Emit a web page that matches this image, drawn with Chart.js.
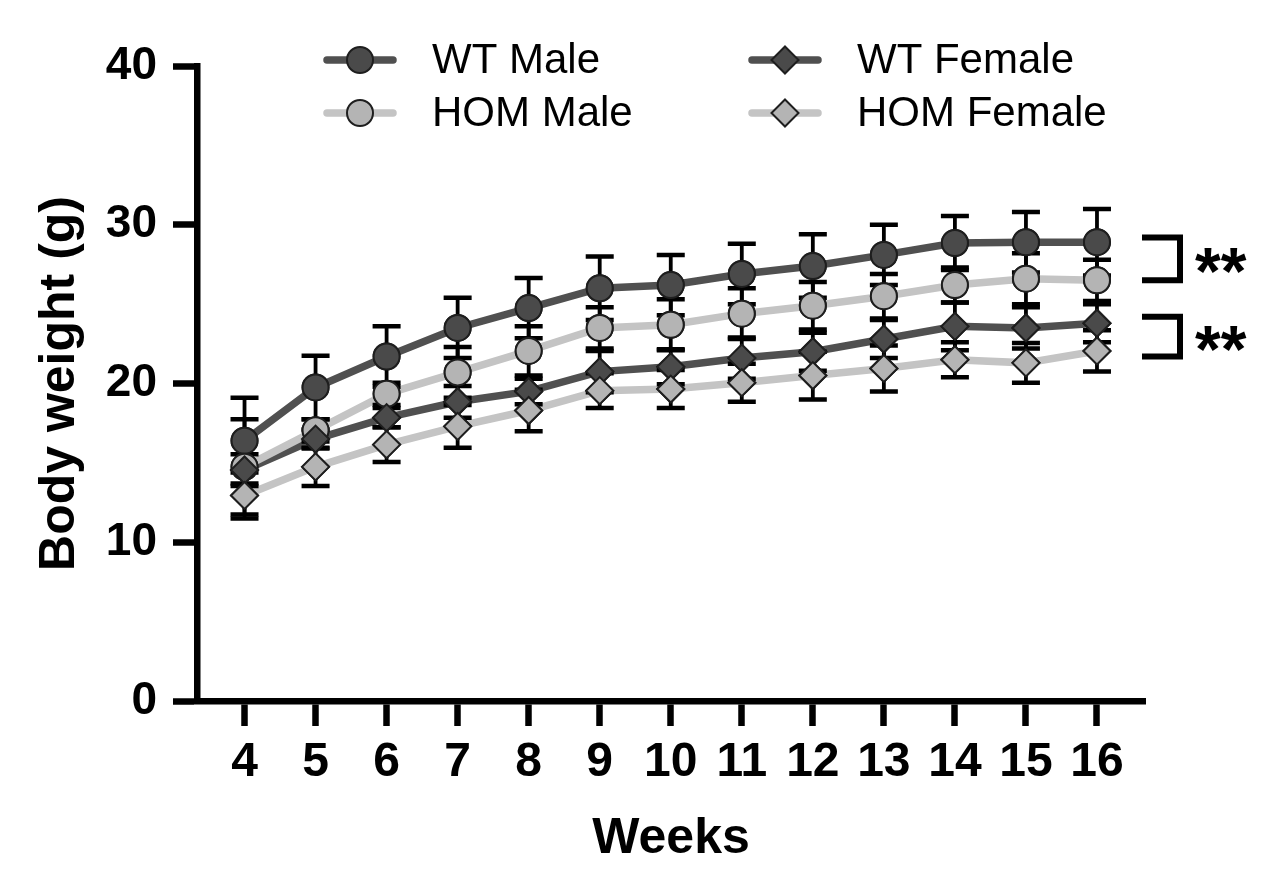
<!DOCTYPE html>
<html>
<head>
<meta charset="utf-8">
<script src="https://cdn.jsdelivr.net/npm/chart.js@4/dist/chart.umd.min.js"></script>
<style>
html,body{margin:0;padding:0;background:#fff;}
#wrap{width:1267px;height:877px;}
</style>
</head>
<body>
<div id="wrap"><canvas id="c" width="1267" height="877"></canvas></div>
<script>
// ---- data ----
const weeks = [4, 5, 6, 7, 8, 9, 10, 11, 12, 13, 14, 15, 16];
const wtMale      = [16.4, 19.75, 21.7, 23.5, 24.75, 26.0, 26.2, 26.9, 27.4, 28.1, 28.85, 28.9, 28.9];
const wtMaleErr   = [2.7, 2.0, 1.9, 1.9, 1.9, 2.0, 1.9, 1.9, 2.0, 1.9, 1.7, 1.9, 2.1];
const homMale     = [14.75, 17.05, 19.35, 20.7, 22.05, 23.5, 23.7, 24.4, 24.9, 25.5, 26.2, 26.6, 26.5];
const homMaleErr  = [3.0, 0.7, 0.7, 1.6, 1.55, 1.3, 1.6, 1.6, 1.5, 1.4, 1.1, 1.6, 1.3];
const wtFemale    = [14.55, 16.5, 17.85, 18.85, 19.5, 20.75, 21.05, 21.6, 22.0, 22.8, 23.6, 23.5, 23.8];
const wtFemaleErr = [1.0, 0.6, 0.6, 1.0, 0.8, 1.3, 1.1, 1.3, 1.2, 1.2, 1.5, 1.3, 1.2];
const homFemale   = [12.95, 14.75, 16.15, 17.3, 18.3, 19.55, 19.65, 20.05, 20.5, 20.95, 21.5, 21.3, 22.05];
const homFemaleErr= [1.45, 1.2, 1.1, 1.35, 1.3, 1.1, 1.2, 1.2, 1.5, 1.45, 1.1, 1.25, 1.3];
const yTicks = [0, 10, 20, 30, 40];
const seriesNames = ['WT Male', 'HOM Male', 'WT Female', 'HOM Female'];
const sigPairs = [[29.2, 26.5], [24.2, 21.7]];
const sigLabels = ['**', '**'];

const DARK_LINE = '#505050', DARK_FILL = '#4a4a4a';
const LIGHT_LINE = '#c4c4c4', LIGHT_FILL = '#b4b4b4';
const EDGE = '#1e1e1e';
const R_CIRCLE = 13, R_DIAMOND = 13.5;

function mk(label, vals, errs, lineColor, fill, style) {
  return {
    label: label,
    data: weeks.map((w, i) => ({x: w, y: vals[i]})),
    errs: errs,
    borderColor: lineColor,
    backgroundColor: fill,
    borderWidth: 7.5,
    pointStyle: style,
    pointRadius: style === 'circle' ? R_CIRCLE : R_DIAMOND,
    pointBackgroundColor: fill,
    pointBorderColor: EDGE,
    pointBorderWidth: 2,
    tension: 0,
    clip: false
  };
}

const datasets = [
  mk(seriesNames[0], wtMale, wtMaleErr, DARK_LINE, DARK_FILL, 'circle'),
  mk(seriesNames[1], homMale, homMaleErr, LIGHT_LINE, LIGHT_FILL, 'circle'),
  mk(seriesNames[2], wtFemale, wtFemaleErr, DARK_LINE, DARK_FILL, 'rectRot'),
  mk(seriesNames[3], homFemale, homFemaleErr, LIGHT_LINE, LIGHT_FILL, 'rectRot')
];

function drawMarker(ctx, style, x, y, r, fill) {
  ctx.save();
  ctx.fillStyle = fill;
  ctx.strokeStyle = EDGE;
  ctx.lineWidth = 2;
  ctx.beginPath();
  if (style === 'circle') {
    ctx.arc(x, y, r, 0, Math.PI * 2);
  } else {
    ctx.moveTo(x, y - r); ctx.lineTo(x + r, y); ctx.lineTo(x, y + r); ctx.lineTo(x - r, y); ctx.closePath();
  }
  ctx.fill(); ctx.stroke();
  ctx.restore();
}

const errorBars = {
  id: 'errorBars',
  afterDatasetsDraw(chart) {
    const ctx = chart.ctx;
    const ys = chart.scales.y;
    ctx.save();
    ctx.strokeStyle = '#000';
    ctx.lineCap = 'butt';
    chart.data.datasets.forEach((ds, i) => {
      const meta = chart.getDatasetMeta(i);
      meta.data.forEach((pt, j) => {
        const v = ds.data[j].y, e = ds.errs[j];
        const yt = ys.getPixelForValue(v + e), yb = ys.getPixelForValue(v - e);
        ctx.lineWidth = 3.8;
        ctx.beginPath();
        ctx.moveTo(pt.x, yt); ctx.lineTo(pt.x, yb);
        ctx.stroke();
        ctx.lineWidth = 4.5;
        ctx.beginPath();
        ctx.moveTo(pt.x - 14, yt); ctx.lineTo(pt.x + 14, yt);
        ctx.moveTo(pt.x - 14, yb); ctx.lineTo(pt.x + 14, yb);
        ctx.stroke();
      });
    });
    ctx.restore();
    chart.data.datasets.forEach((ds, i) => {
      const meta = chart.getDatasetMeta(i);
      meta.data.forEach(pt => pt.draw(ctx, chart.chartArea));
    });
  }
};

const legendAndSig = {
  id: 'legendAndSig',
  afterDraw(chart) {
    const ctx = chart.ctx;
    const cols = [325, 750];
    const rows = [60, 113];
    const order = [[0, 0, 0], [1, 0, 1], [2, 1, 0], [3, 1, 1]];
    ctx.save();
    order.forEach(([di, c, r]) => {
      const ds = chart.data.datasets[di];
      const x0 = cols[c], y0 = rows[r];
      ctx.strokeStyle = ds.borderColor;
      ctx.lineWidth = 7.5;
      ctx.lineCap = 'round';
      ctx.beginPath(); ctx.moveTo(x0 + 2, y0); ctx.lineTo(x0 + 68, y0); ctx.stroke();
      drawMarker(ctx, ds.pointStyle, x0 + 35, y0, ds.pointStyle === 'circle' ? R_CIRCLE : R_DIAMOND, ds.pointBackgroundColor);
      ctx.fillStyle = '#000';
      ctx.font = '42px "Liberation Sans", Arial, sans-serif';
      ctx.textAlign = 'left';
      ctx.textBaseline = 'middle';
      ctx.fillText(ds.label, x0 + 107, y0 + 1);
    });
    const ys = chart.scales.y;
    const right = chart.chartArea.right;
    ctx.strokeStyle = '#000';
    ctx.lineWidth = 6;
    ctx.lineCap = 'butt';
    ctx.lineJoin = 'miter';
    sigPairs.forEach((p, k) => {
      const yA = ys.getPixelForValue(p[0]), yB = ys.getPixelForValue(p[1]);
      const xa = right - 3, xb = right + 35;
      ctx.beginPath();
      ctx.moveTo(xa, yA); ctx.lineTo(xb, yA); ctx.lineTo(xb, yB); ctx.lineTo(xa, yB);
      ctx.stroke();
      ctx.fillStyle = '#000';
      ctx.font = 'bold 66px "Liberation Sans", Arial, sans-serif';
      ctx.textAlign = 'left';
      ctx.textBaseline = 'middle';
      ctx.fillText(sigLabels[k], right + 50, (yA + yB) / 2 + 17);
    });
    ctx.restore();
  }
};

const tickFontY = {family: '"Liberation Sans", Arial, sans-serif', size: 46, weight: 'bold'};
const tickFontX = {family: '"Liberation Sans", Arial, sans-serif', size: 48, weight: 'bold'};
const titleFont = {family: '"Liberation Sans", Arial, sans-serif', size: 50, weight: 'bold'};

new Chart(document.getElementById('c'), {
  type: 'line',
  data: {datasets: datasets},
  plugins: [errorBars, legendAndSig],
  options: {
    responsive: false,
    animation: false,
    events: [],
    layout: {padding: {left: 0, top: 66, right: 122, bottom: 0}},
    plugins: {legend: {display: false}, tooltip: {enabled: false}},
    scales: {
      x: {
        type: 'linear',
        min: 3.331, max: 16.676,
        afterBuildTicks(s) { s.ticks = weeks.map(v => ({value: v})); },
        afterFit(s) { s.height = 176; },
        ticks: {font: tickFontX, color: '#000', padding: 8, autoSkip: false, maxRotation: 0, callback: v => String(v)},
        grid: {drawOnChartArea: false, drawTicks: true, tickLength: 25, tickWidth: 6.5, tickColor: '#000'},
        border: {color: '#000', width: 6.5},
        title: {display: true, text: 'Weeks', font: titleFont, color: '#000', padding: {top: 0, bottom: 8}}
      },
      y: {
        type: 'linear',
        min: 0, max: 40,
        afterBuildTicks(s) { s.ticks = yTicks.map(v => ({value: v})); },
        afterFit(s) { s.width = 197; },
        ticks: {font: tickFontY, color: '#000', padding: 16},
        grid: {drawOnChartArea: false, drawTicks: true, tickLength: 24, tickWidth: 6.5, tickColor: '#000'},
        border: {color: '#000', width: 6.5},
        title: {display: true, text: 'Body weight (g)', font: titleFont, color: '#000', padding: {top: 30, bottom: 0}}
      }
    }
  }
});
</script>
</body>
</html>
